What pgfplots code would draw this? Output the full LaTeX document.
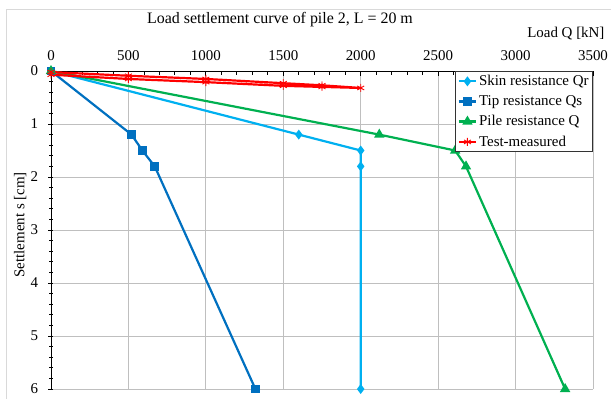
\documentclass[border=0pt]{standalone}
\usepackage{fontspec}
\setmainfont{Liberation Serif}
\usepackage{pgfplots}
\pgfplotsset{compat=1.18}
\definecolor{skin}{HTML}{00B0F0}
\definecolor{tip}{HTML}{0070C0}
\definecolor{pile}{HTML}{00B050}
\definecolor{meas}{HTML}{FF0000}
\definecolor{gridgray}{HTML}{BFBFBF}
\definecolor{framegray}{HTML}{D9D9D9}
\begin{document}
\begin{tikzpicture}
\useasboundingbox (-51bp,-10bp) rectangle (560bp,389bp);
\draw[framegray, line width=1bp] (-44bp,-30bp) rectangle (580bp,379bp);
\begin{axis}[
  scale only axis,
  width=542bp, height=318bp,
  xmin=0, xmax=3500, ymin=0, ymax=6,
  y dir=reverse,
  axis x line=top, axis y line=left,
  axis line style={-, line width=0.9bp, black},
  xtick={0,500,...,3500}, ytick={0,1,...,6},
  minor x tick num=4, minor y tick num=4,
  xticklabel pos=top,
  x tick style={line width=0.8bp, black},
  y tick style={line width=0.8bp, black},
  xtick align=inside, ytick align=center,
  major tick length=5bp, minor tick length=3.5bp,
  grid=major,
  major grid style={gridgray, line width=0.8bp},
  tick label style={font=\fontsize{15}{16}\selectfont},
  /pgf/number format/assume math mode=true,
  /pgf/number format/1000 sep={},
  xticklabel style={yshift=7bp},
  yticklabel style={xshift=-7bp},
  ylabel={Settlement s [cm]},
  every axis y label/.style={at={(axis description cs:-0.057,0.516)}, rotate=90, anchor=center, font=\fontsize{15}{16}\selectfont},
  legend style={at={(1,1)}, anchor=north east, draw=black!80, line width=0.8bp,
    font=\fontsize{15}{16}\selectfont, inner sep=2bp, row sep=4.5bp,
    legend cell align=left},
  every axis plot/.append style={line width=2.2bp},
  clip=false,
]
\addplot[skin, mark=diamond*, mark size=3.2bp] coordinates {(0,0) (1600,1.2) (2000,1.5) (2000,1.8) (2000,6)};
\addlegendentry{Skin resistance Qr}
\addplot[tip, mark=square*, mark size=3.2bp] coordinates {(0,0) (520,1.2) (590,1.5) (670,1.8) (1320,6)};
\addlegendentry{Tip resistance Qs}
\addplot[pile, mark=triangle*, mark size=3.8bp] coordinates {(0,0) (2120,1.2) (2610,1.5) (2680,1.8) (3320,6)};
\addlegendentry{Pile resistance Q}
\addplot[meas, line width=2.2bp, mark=asterisk, mark size=4bp, mark options={line width=0.9bp}] coordinates {(0,0.02) (500,0.09) (1000,0.15) (1500,0.23) (1750,0.27) (2000,0.32) (1750,0.3) (1500,0.28) (1000,0.21) (500,0.15) (0,0.07)};
\addlegendentry{Test-measured}
\end{axis}
\node[font=\fontsize{16}{17}\selectfont] at (229bp,369bp) {Load settlement curve of pile 2, L = 20 m};
\node[font=\fontsize{15}{16}\selectfont, anchor=east] at (557bp,355bp) {Load Q [kN]};
\end{tikzpicture}
\end{document}
